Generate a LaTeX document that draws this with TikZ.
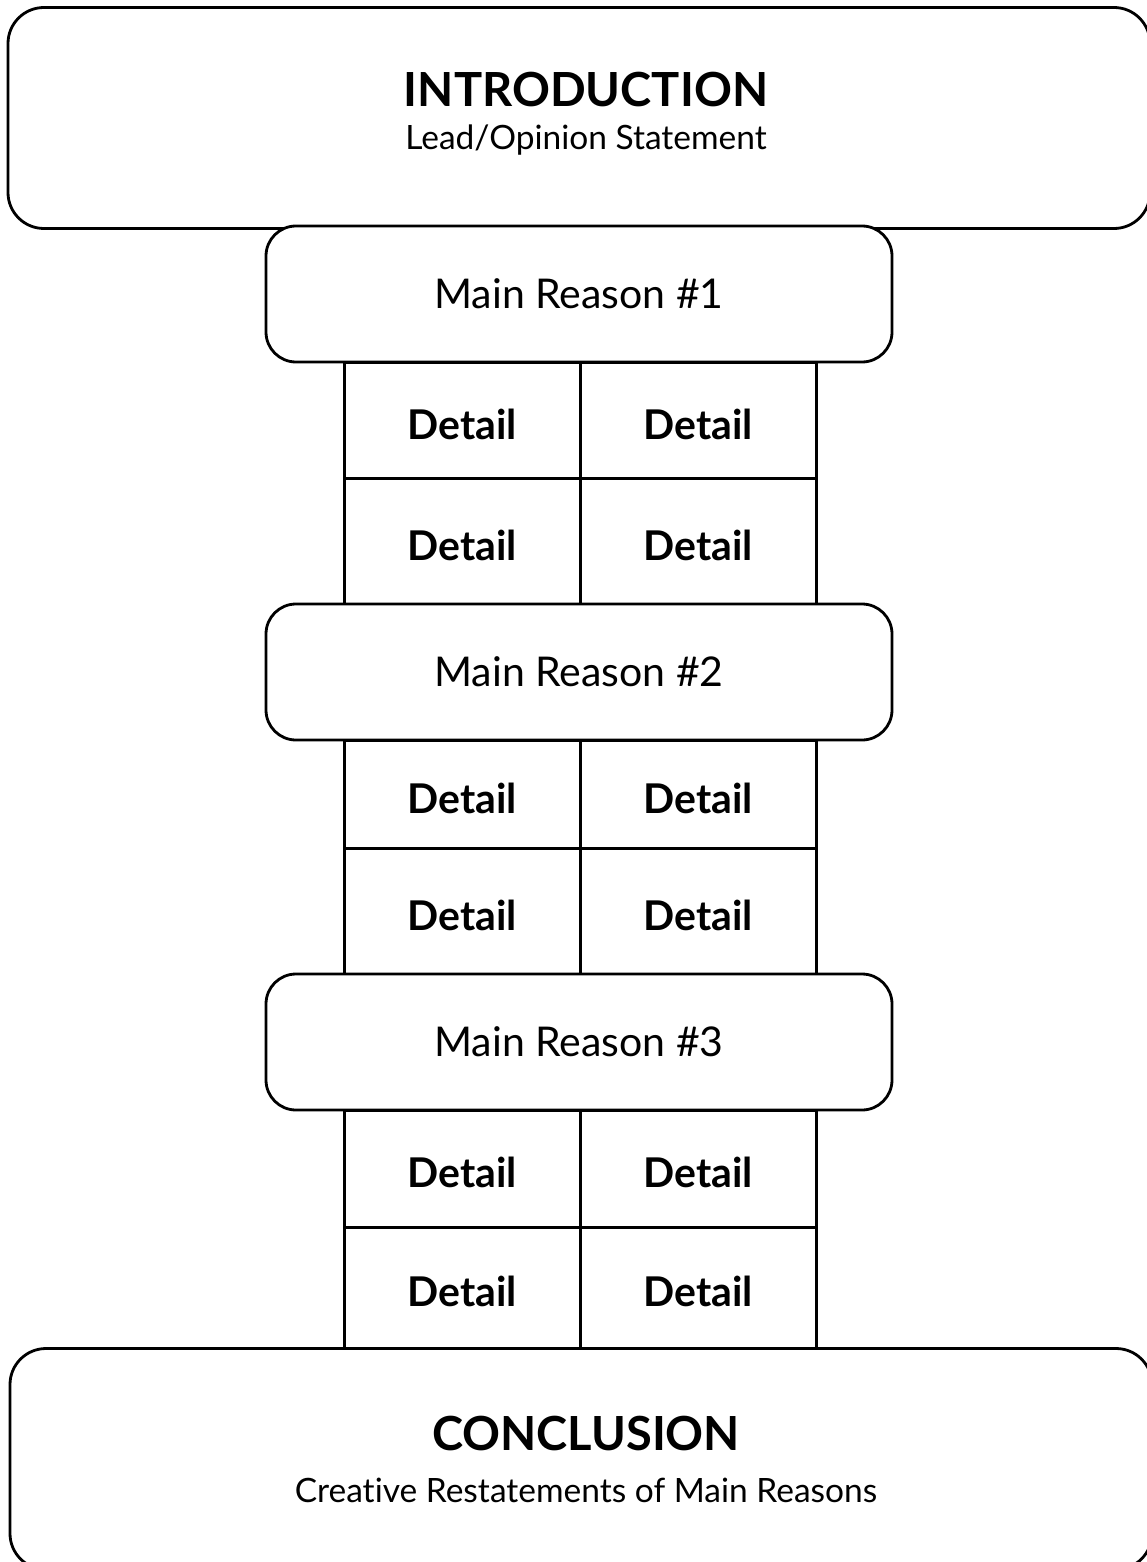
\documentclass[tikz,border=0pt]{standalone}
\usepackage{fontspec}
\setmainfont{Lato}[Ligatures=NoCommon]
\usetikzlibrary{matrix,positioning}

\tikzset{
  endbox/.style={draw, line width=2.8pt, rounded corners=36pt, fill=white,
    minimum width=1142pt, minimum height=221pt, inner sep=0pt},
  reasonbox/.style={draw, line width=2.8pt, rounded corners=30pt, fill=white,
    minimum width=626pt, minimum height=136pt, inner sep=0pt,
    font=\fontsize{41}{48}\selectfont},
  detailcell/.style={draw, line width=3pt, minimum width=236pt, inner sep=0pt,
    outer sep=0pt, text height=39pt, font=\bfseries\fontsize{41}{48}\selectfont},
  detailgrid/.style={matrix of nodes, nodes={detailcell}, line width=3pt,
    row sep=-3pt, column sep=-3pt, inner sep=0pt, outer sep=0pt,
    anchor=north west},
  titletext/.style={anchor=base, inner sep=0pt, font=\bfseries\fontsize{47}{55}\selectfont},
  subtext/.style={anchor=base, inner sep=0pt, font=\fontsize{33.5}{40}\selectfont},
}

\begin{document}
\begin{tikzpicture}[x=1pt, y=-1pt]
  \useasboundingbox (0,0) rectangle (1146,1562);

  % detail grids first, the reason boxes sit on top of them
  \matrix (d1) [detailgrid,
    row 1/.style={nodes={minimum height=116pt}},
    row 2/.style={nodes={minimum height=126pt}}] at (342.5,360.5)
  {
    Detail & Detail \\
    Detail & Detail \\ };
  \matrix (d2) [detailgrid,
    row 1/.style={nodes={minimum height=108pt}},
    row 2/.style={nodes={minimum height=126pt}}] at (342.5,738.5)
  {
    Detail & Detail \\
    Detail & Detail \\ };
  \matrix (d3) [detailgrid,
    row 1/.style={nodes={minimum height=117pt}},
    row 2/.style={nodes={minimum height=121pt}}] at (342.5,1108.5)
  {
    Detail & Detail \\
    Detail & Detail \\ };

  % introduction and conclusion
  \node[endbox] (intro) at (579,118) {};
  \node[endbox] (concl) at (581,1459) {};
  \node[titletext] (introtitle) at (586,107) {INTRODUCTION};
  \node[subtext] (introsub) at (586,150) {Lead/Opinion Statement};
  \node[titletext] (concltitle) at (586,1450) {CONCLUSION};
  \node[subtext] (conclsub) at (586,1502) {Creative Restatements of Main Reasons};

  % main reasons
  \node[reasonbox] (r1) at (579,294) {Main Reason \#1};
  \node[reasonbox] (r2) at (579,672) {Main Reason \#2};
  \node[reasonbox] (r3) at (579,1042) {Main Reason \#3};
\end{tikzpicture}
\end{document}
